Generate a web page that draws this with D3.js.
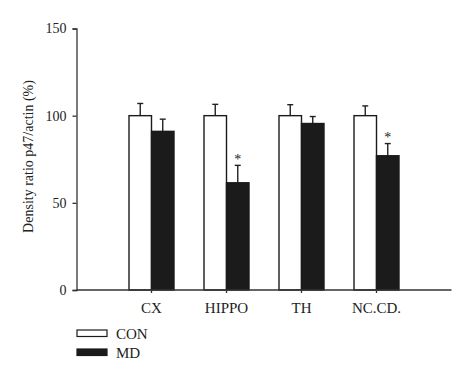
<!DOCTYPE html>
<html>
<head>
<meta charset="utf-8">
<script src="https://cdn.jsdelivr.net/npm/d3@7"></script>
<style>
  body { margin: 0; background: #fff; }
  text { font-family: "Liberation Serif", "DejaVu Serif", serif; fill: #222; }
</style>
</head>
<body>
<script>
// data
const regions = ['CX', 'HIPPO', 'TH', 'NC.CD.'];
const groups = ['CON', 'MD'];
const conValues = [100, 100, 100, 100];
const conErrors = [7, 6.5, 6.3, 5.6];
const mdValues = [91, 61.5, 95.5, 77];
const mdErrors = [7, 10, 4, 7];
const significant = [false, true, false, true];
const yTicks = [0, 50, 100, 150];

const W = 474, H = 379;
const axisLeft = 76.5, axisRight = 451.5, axisBottom = 290, axisTop = 28.5;

const svg = d3.select('body').append('svg')
  .attr('width', W)
  .attr('height', H);

const y = d3.scaleLinear().domain([0, 150]).range([axisBottom, axisTop]);

// one empty slot left of CX, categories fill the rest
const step = (axisRight - axisLeft) / 5;
const x = d3.scaleBand()
  .domain(regions)
  .range([axisLeft + step / 2, axisRight - step / 2])
  .paddingInner(0.4)
  .paddingOuter(0.2);
const xInner = d3.scaleBand().domain(groups).range([0, x.bandwidth()]);

const fills = { CON: '#ffffff', MD: '#1b1b1b' };

const rows = [];
regions.forEach((r, i) => {
  rows.push({ region: r, group: 'CON', value: conValues[i], err: conErrors[i], star: false });
  rows.push({ region: r, group: 'MD', value: mdValues[i], err: mdErrors[i], star: significant[i] });
});

// error bars (drawn first so the bar covers the lower half)
const eb = svg.append('g').attr('stroke', '#222').attr('stroke-width', 1.4);
rows.forEach(d => {
  const cx = x(d.region) + xInner(d.group) + xInner.bandwidth() / 2;
  eb.append('line').attr('x1', cx).attr('x2', cx)
    .attr('y1', y(d.value)).attr('y2', y(d.value + d.err));
  eb.append('line').attr('x1', cx - 3).attr('x2', cx + 3)
    .attr('y1', y(d.value + d.err)).attr('y2', y(d.value + d.err));
});

// bars
svg.append('g').selectAll('rect')
  .data(rows)
  .join('rect')
  .attr('x', d => x(d.region) + xInner(d.group))
  .attr('y', d => y(d.value))
  .attr('width', xInner.bandwidth())
  .attr('height', d => y(0) - y(d.value))
  .attr('fill', d => fills[d.group])
  .attr('stroke', '#1b1b1b')
  .attr('stroke-width', 1.4);

// significance stars
svg.append('g').selectAll('text')
  .data(rows.filter(d => d.star))
  .join('text')
  .attr('x', d => x(d.region) + xInner(d.group) + xInner.bandwidth() / 2)
  .attr('y', d => y(d.value + d.err) - 1.5)
  .attr('text-anchor', 'middle')
  .attr('font-size', 14)
  .text('*');

// y axis
const yAxis = svg.append('g')
  .attr('transform', `translate(${axisLeft},0)`)
  .call(d3.axisLeft(y).tickValues(yTicks).tickSize(4).tickPadding(6));
yAxis.select('.domain').attr('stroke', '#333').attr('stroke-width', 1.3);
yAxis.selectAll('.tick line').attr('stroke', '#333').attr('stroke-width', 1.3);
yAxis.selectAll('.tick text').attr('font-size', 14).attr('font-family', '"Liberation Serif", serif').attr('fill', '#222');

// x axis
const xAxisG = svg.append('g').attr('transform', `translate(0,${axisBottom})`);
xAxisG.append('line')
  .attr('x1', axisLeft).attr('x2', axisRight)
  .attr('stroke', '#333').attr('stroke-width', 1.3);
const xt = xAxisG.append('g')
  .call(d3.axisBottom(x).tickSize(3).tickPadding(9));
xt.select('.domain').remove();
xt.selectAll('.tick line').attr('stroke', '#333').attr('stroke-width', 1.3);
xt.selectAll('.tick text').attr('font-size', 15).attr('font-family', '"Liberation Serif", serif').attr('fill', '#222');

// y label
svg.append('text')
  .attr('transform', `translate(33,${(77 + 236) / 2}) rotate(-90)`)
  .attr('text-anchor', 'middle')
  .attr('font-size', 14)
  .text('Density ratio p47/actin (%)');

// legend
const legend = svg.append('g').attr('transform', 'translate(77,330)');
groups.forEach((g, i) => {
  const row = legend.append('g').attr('transform', `translate(0,${i * 19})`);
  row.append('rect')
    .attr('width', 30).attr('height', 6.5)
    .attr('fill', fills[g]).attr('stroke', '#1b1b1b').attr('stroke-width', 1.2);
  row.append('text')
    .attr('x', 39).attr('y', 3.5).attr('dy', '0.35em')
    .attr('font-size', 15)
    .text(g);
});
</script>
</body>
</html>
